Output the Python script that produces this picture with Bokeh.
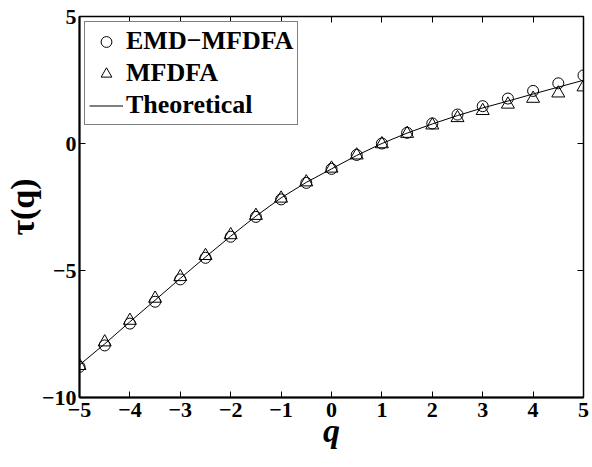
from bokeh.plotting import figure
from bokeh.models import FixedTicker, LinearAxis, Legend, LegendItem, Range1d, Spacer
from bokeh.layouts import column
from bokeh.embed import file_html
from bokeh.resources import INLINE

q = [-5.0, -4.5, -4.0, -3.5, -3.0, -2.5, -2.0, -1.5, -1.0, -0.5, 0.0,
     0.5, 1.0, 1.5, 2.0, 2.5, 3.0, 3.5, 4.0, 4.5, 5.0]
emd_mfdfa = [-8.79, -7.95, -7.09, -6.23, -5.35, -4.50, -3.67, -2.89, -2.20, -1.55, -1.00,
             -0.45, 0.00, 0.42, 0.79, 1.14, 1.47, 1.77, 2.07, 2.37, 2.68]
mfdfa = [-8.75, -7.82, -6.97, -6.10, -5.25, -4.42, -3.60, -2.84, -2.16, -1.52, -0.98,
         -0.46, -0.02, 0.39, 0.72, 1.01, 1.29, 1.54, 1.77, 1.98, 2.22]
theoretical = [-8.72, -7.89, -7.02, -6.17, -5.31, -4.47, -3.65, -2.86, -2.14, -1.53, -1.00,
               -0.47, 0.00, 0.41, 0.77, 1.10, 1.40, 1.67, 1.95, 2.22, 2.49]
x_ticks = [-5, -4, -3, -2, -1, 0, 1, 2, 3, 4, 5]
y_ticks = [-10, -5, 0, 5]

FONT = "'Liberation Serif', 'Times New Roman', serif"

p = figure(output_backend="svg", toolbar_location=None,
           frame_width=504, frame_height=381,
           min_border_left=72, min_border_right=8, min_border_top=9, min_border_bottom=58,
           x_range=Range1d(-5, 5), y_range=Range1d(-10, 5))
p.background_fill_color = "white"
p.border_fill_color = "white"
p.grid.visible = False
p.outline_line_color = "black"
p.outline_line_width = 1.5

def minus(v):
    return str(v).replace("-", "\u2212")

for ax, ticks in ((p.xaxis[0], x_ticks), (p.yaxis[0], y_ticks)):
    ax.ticker = FixedTicker(ticks=ticks)
    ax.major_label_overrides = {t: minus(t) for t in ticks}
    ax.major_label_text_font = FONT
    ax.major_label_text_font_style = "bold"
    ax.major_label_text_font_size = "22px"
    ax.major_label_text_color = "black"
    ax.major_tick_in = 6
    ax.major_tick_out = 0
    ax.minor_tick_in = 0
    ax.minor_tick_out = 0
    ax.axis_line_width = 2
    ax.major_tick_line_width = 1
    ax.axis_label_text_font = FONT
    ax.axis_label_text_font_size = "34px"
    ax.axis_label_text_color = "black"

p.xaxis[0].major_label_standoff = 5
p.yaxis[0].major_label_standoff = 3
p.xaxis[0].axis_label = "q"
p.xaxis[0].axis_label_text_font_style = "bold italic"
p.xaxis[0].axis_label_standoff = -8
p.yaxis[0].axis_label = "\u03c4(q)"
p.yaxis[0].axis_label_text_font_style = "bold"
p.yaxis[0].axis_label_standoff = -2

for loc, ticks in (("above", x_ticks), ("right", y_ticks)):
    a = LinearAxis(ticker=FixedTicker(ticks=ticks))
    a.major_label_text_font_size = "0px"
    a.major_label_text_color = None
    a.major_label_standoff = 0
    a.major_tick_in = 6
    a.major_tick_out = 0
    a.minor_tick_in = 0
    a.minor_tick_out = 0
    a.axis_line_color = None
    p.add_layout(a, loc)

r_line = p.line(q, theoretical, line_color="black", line_width=1)
r_circ = p.scatter(q, emd_mfdfa, marker="circle", size=11, fill_color=None,
                   line_color="black", line_width=1)
r_tri = p.scatter(q, mfdfa, marker="triangle", size=13, fill_color=None,
                  line_color="black", line_width=1)

legend = Legend(items=[
    LegendItem(label="EMD\u2212MFDFA", renderers=[r_circ]),
    LegendItem(label="MFDFA", renderers=[r_tri]),
    LegendItem(label="Theoretical", renderers=[r_line]),
], location="top_left")
legend.label_text_font = FONT
legend.label_text_font_style = "bold"
legend.label_text_font_size = "26px"
legend.label_text_color = "black"
legend.label_height = 27
legend.glyph_height = 27
legend.glyph_width = 34
legend.label_standoff = 3
legend.spacing = 2
legend.padding = 4
legend.margin = 5
legend.border_line_color = "black"
legend.border_line_width = 1
legend.background_fill_color = "white"
legend.background_fill_alpha = 1
p.add_layout(legend)

layout = column(Spacer(width=10, height=7), p, spacing=0)
open("out.html", "w").write(file_html(layout, INLINE))
